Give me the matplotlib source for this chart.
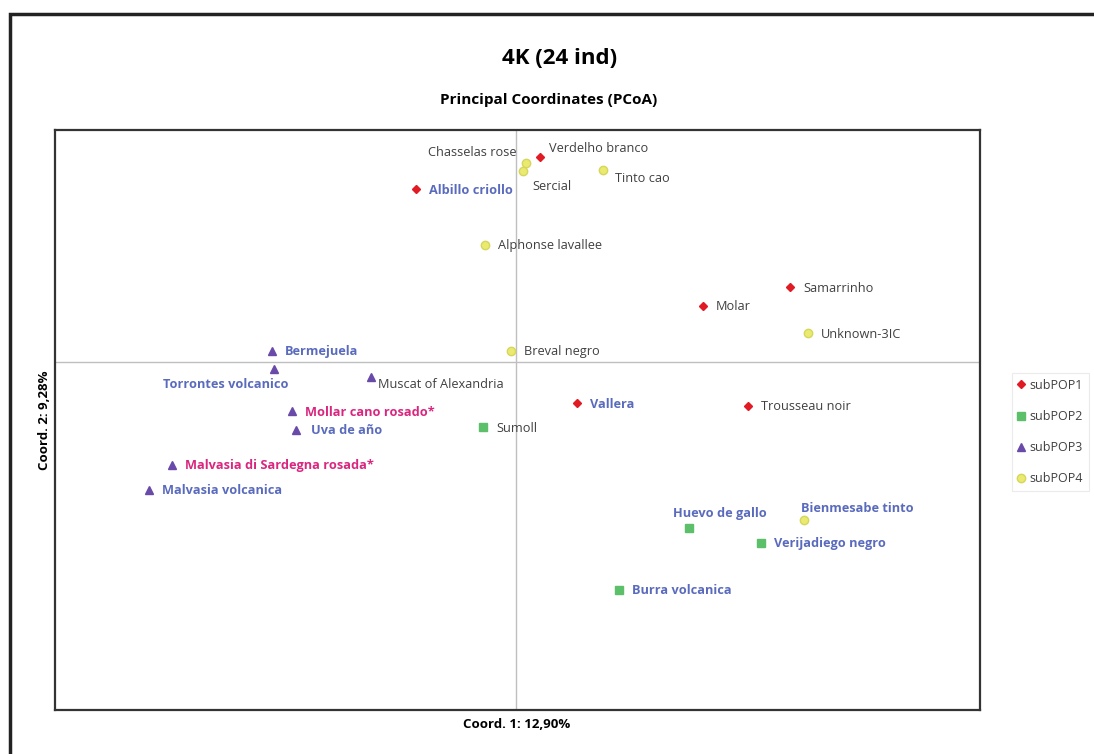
import matplotlib
matplotlib.use("Agg")
import matplotlib.pyplot as plt
from matplotlib.lines import Line2D
from matplotlib.patches import Rectangle

# PCoA scores (arbitrary units, origin at the axis crossing)
names = [
    "Verdelho branco", "Albillo criollo", "Samarrinho", "Molar", "Vallera", "Trousseau noir",
    "Sumoll", "Huevo de gallo", "Verijadiego negro", "Burra volcanica",
    "Bermejuela", "Torrontes volcanico", "Muscat of Alexandria", "Mollar cano rosado*",
    "Uva de año", "Malvasia di Sardegna rosada*", "Malvasia volcanica",
    "Chasselas rose", "Sercial", "Tinto cao", "Alphonse lavallee", "Unknown-3IC",
    "Breval negro", "Bienmesabe tinto",
]
coord1 = [0.24, -1.00, 2.74, 1.87, 0.61, 2.32,
          -0.33, 1.73, 2.45, 1.03,
          -2.44, -2.42, -1.45, -2.24, -2.20, -3.44, -3.67,
          0.10, 0.07, 0.87, -0.31, 2.92, -0.05, 2.88]
coord2 = [2.05, 1.73, 0.75, 0.56, -0.41, -0.44,
          -0.65, -1.66, -1.81, -2.28,
          0.11, -0.07, -0.15, -0.49, -0.68, -1.03, -1.28,
          1.99, 1.91, 1.92, 1.17, 0.29, 0.11, -1.58]
group = [1, 1, 1, 1, 1, 1,
         2, 2, 2, 2,
         3, 3, 3, 3, 3, 3, 3,
         4, 4, 4, 4, 4, 4, 4]

canary = ["Albillo criollo", "Vallera", "Huevo de gallo", "Verijadiego negro", "Burra volcanica",
          "Bermejuela", "Torrontes volcanico", "Uva de año", "Malvasia volcanica",
          "Bienmesabe tinto"]
rosado = ["Mollar cano rosado*", "Malvasia di Sardegna rosada*"]

pop_names = ["subPOP1", "subPOP2", "subPOP3", "subPOP4"]

# label placement: (dx, dy in pixels, ha)
default_offset = (13, -1, "left")
label_offset = {
    "Verdelho branco": (9, 9, "left"),
    "Chasselas rose": (-9, 10, "right"),
    "Sercial": (9, -15, "left"),
    "Tinto cao": (12, -9, "left"),
    "Torrontes volcanico": (-48, -16, "center"),
    "Muscat of Alexandria": (7, -8, "left"),
    "Uva de año": (15, -1, "left"),
    "Huevo de gallo": (31, 15, "center"),
    "Bienmesabe tinto": (-3, 11, "left"),
}

styles = {
    1: dict(marker="D", color="#e01b24", ms=4.5, mec="#e01b24"),
    2: dict(marker="s", color="#5cbf6a", ms=5.5, mec="#5cbf6a"),
    3: dict(marker="^", color="#6a4aa8", ms=6, mec="#6a4aa8"),
    4: dict(marker="o", color="#eaea70", ms=6, mec="#d6d65a"),
}

label_font = ["Open Sans", "DejaVu Sans"]

fig = plt.figure(figsize=(10.94, 7.54), dpi=100)
ax = fig.add_axes([55 / 1094, 1 - 710 / 754, 925 / 1094, 580 / 754])

# outer frame of the figure
fig.patches.append(Rectangle((10 / 1094, -0.2), 2, 1.2 - 14 / 754, transform=fig.transFigure,
                             fill=False, edgecolor="#222222", linewidth=2.5))

ax.set_xlim(-4.61, 4.64)
ax.set_ylim(-3.48, 2.32)
ax.axhline(0, color="#bfbfbf", lw=1, zorder=0)
ax.axvline(0, color="#bfbfbf", lw=1, zorder=0)
ax.set_xticks([])
ax.set_yticks([])
for s in ax.spines.values():
    s.set_color("#333333")
    s.set_linewidth(1.6)

for g in range(1, 5):
    xs = [x for x, gg in zip(coord1, group) if gg == g]
    ys = [y for y, gg in zip(coord2, group) if gg == g]
    ax.plot(xs, ys, ls="none", **styles[g])

for n, x, y in zip(names, coord1, coord2):
    dx, dy, ha = label_offset.get(n, default_offset)
    if n in canary:
        col, wt = "#5a6bbd", "bold"
    elif n in rosado:
        col, wt = "#d9267f", "bold"
    else:
        col, wt = "#404040", "normal"
    ax.annotate(n, (x, y), xytext=(dx, dy), textcoords="offset pixels",
                ha=ha, va="center", fontsize=9.2, color=col, fontweight=wt,
                family=label_font)

handles = [Line2D([], [], ls="none", **styles[g]) for g in range(1, 5)]
leg = fig.legend(handles, pop_names, loc="center left", bbox_to_anchor=(1012 / 1094, 1 - 432 / 754),
                 frameon=True, fancybox=False, handlelength=0.5, handletextpad=0.4,
                 labelspacing=1.45, borderpad=0.5, borderaxespad=0,
                 prop={"family": label_font, "size": 9})
leg.get_frame().set_edgecolor("#e6e6e6")
leg.get_frame().set_linewidth(0.8)
for t in leg.get_texts():
    t.set_color("#404040")

fig.text(560 / 1094, 1 - 59 / 754, "4K (24 ind)", ha="center", va="center",
         fontsize=16, fontweight="bold", family=label_font)
fig.text(549 / 1094, 1 - 100 / 754, "Principal Coordinates (PCoA)", ha="center", va="center",
         fontsize=11, fontweight="bold", family=label_font)
fig.text(517 / 1094, 1 - 724 / 754, "Coord. 1: 12,90%", ha="center", va="center",
         fontsize=9.5, fontweight="bold", family=label_font)
fig.text(45 / 1094, 1 - 420 / 754, "Coord. 2: 9,28%", ha="center", va="center", rotation=90,
         fontsize=9.5, fontweight="bold", family=label_font)

fig.savefig("out.png", dpi=100)
